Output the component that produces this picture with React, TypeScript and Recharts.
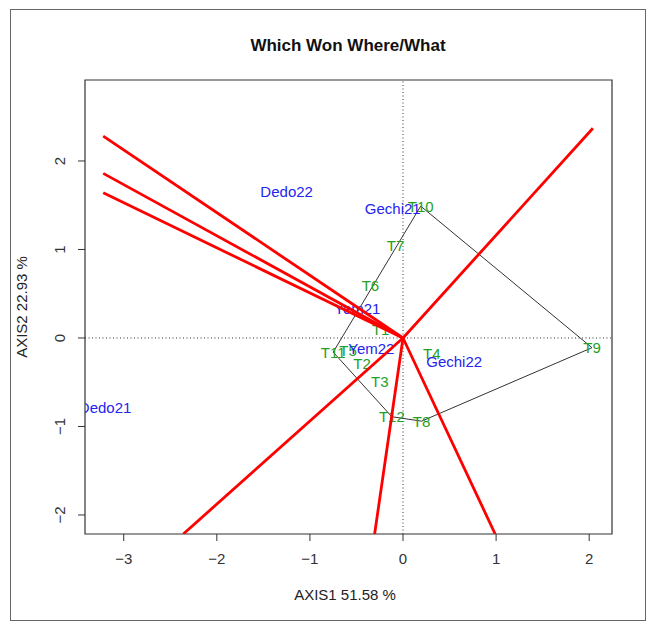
import { ScatterChart, Scatter, XAxis, YAxis, ReferenceLine, ReferenceArea, Label } from "recharts"

// genotypes (green labels)
const genotypeNames = ['T1', 'T2', 'T3', 'T4', 'T5', 'T6', 'T7', 'T8', 'T9', 'T10', 'T11', 'T12'];
const genotypeX = [-0.24, -0.44, -0.25, 0.31, -0.59, -0.35, -0.08, 0.2, 2.03, 0.19, -0.75, -0.12];
const genotypeY = [0.1, -0.29, -0.49, -0.18, -0.14, 0.59, 1.05, -0.94, -0.11, 1.49, -0.16, -0.89];

// environments (blue labels)
const envNames = ['Dedo21', 'Dedo22', 'Gechi21', 'Gechi22', 'Yem21', 'Yem22'];
const envX = [-3.2, -1.25, -0.11, 0.55, -0.49, -0.34];
const envY = [-0.79, 1.65, 1.46, -0.27, 0.33, -0.12];

// polygon vertices (genotypes), closed
const hullOrder = ['T10', 'T11', 'T12', 'T8', 'T9', 'T10'];

// perpendicular rays from the origin
const rayEndX = [-3.22, -3.22, -3.22, -2.36, -0.305, 0.99, 2.04];
const rayEndY = [2.28, 1.86, 1.64, -2.215, -2.215, -2.215, 2.37];

const xTicks = [-3, -2, -1, 0, 1, 2];
const yTicks = [-2, -1, 0, 1, 2];
const xDomain = [-3.416, 2.245];
const yDomain = [-2.215, 2.915];

const FONT = "'Liberation Sans', Arial, sans-serif";
const GREEN = '#23a023';
const BLUE = '#2424ee';

const genotypes = genotypeNames.map((name, i) => ({ name, x: genotypeX[i], y: genotypeY[i] }));
const envs = envNames.map((name, i) => ({ name, x: envX[i], y: envY[i] }));
const hull = hullOrder.map(n => genotypes.find(g => g.name === n)!);
const rays = rayEndX.map((x, i) => [{ x: 0, y: 0 }, { x, y: rayEndY[i] }]);

const fmt = (v: number) => String(v).replace('-', '\u2212');

const XTick = ({ x, y, payload }: any) => (
    <text x={x} y={y} dy="0.72em" textAnchor="middle" fontSize={15} fill="#333" fontFamily={FONT}>
        {fmt(payload.value)}
    </text>
);

const YTick = ({ y, payload }: any) => (
    <text x={65} y={y} transform={`rotate(-90 65 ${y})`} textAnchor="middle" fontSize={15} fill="#333" fontFamily={FONT}>
        {fmt(payload.value)}
    </text>
);

const makeLabel = (color: string) => (props: any) => (
    <text x={props.cx} y={props.cy} textAnchor="middle" dominantBaseline="central" fontSize={15} fill={color} fontFamily={FONT}>
        {props.payload.name}
    </text>
);

const noShape = () => <g />;

export default function App() {
    return (
        <div style={{ position: 'absolute', left: 0, top: 0, width: 648, height: 623, background: '#fff' }}>
            <div style={{ position: 'absolute', left: 10, top: 9, width: 634, height: 610, border: '1px solid #666' }} />
            <div style={{ position: 'absolute', left: 0, top: 0 }}>
                <ScatterChart width={648} height={623} margin={{ top: 80, right: 36, bottom: 39, left: 35 }}>
                    <text x={348} y={51} textAnchor="middle" fontSize={17} fontWeight="bold" fill="#111" fontFamily={FONT}>
                        Which Won Where/What
                    </text>
                    <XAxis type="number" dataKey="x" domain={xDomain} ticks={xTicks} interval={0} allowDataOverflow
                        height={50} axisLine={false} tickLine={{ stroke: '#333' }} tickSize={7} tickMargin={12} tick={<XTick />}>
                        <Label content={() => (
                            <text x={345} y={600} textAnchor="middle" fontSize={15} fill="#222" fontFamily={FONT}>AXIS1 51.58 %</text>
                        )} />
                    </XAxis>
                    <YAxis type="number" dataKey="y" domain={yDomain} ticks={yTicks} interval={0} allowDataOverflow
                        width={50} axisLine={false} tickLine={{ stroke: '#333' }} tickSize={7} tickMargin={12} tick={<YTick />}>
                        <Label content={() => (
                            <text x={27} y={307} transform="rotate(-90 27 307)" textAnchor="middle" fontSize={15} fill="#222" fontFamily={FONT}>AXIS2 22.93 %</text>
                        )} />
                    </YAxis>
                    <ReferenceArea x1={xDomain[0]} x2={xDomain[1]} y1={yDomain[0]} y2={yDomain[1]} fill="none" stroke="#333" strokeWidth={1.2} ifOverflow="visible" />
                    <ReferenceLine x={0} stroke="#333" strokeDasharray="1 2.5" />
                    <ReferenceLine y={0} stroke="#333" strokeDasharray="1 2.5" />
                    <Scatter data={hull} line={{ stroke: '#333', strokeWidth: 1 }} shape={noShape} isAnimationActive={false} />
                    <Scatter data={genotypes} shape={makeLabel(GREEN)} isAnimationActive={false} />
                    <Scatter data={envs} shape={makeLabel(BLUE)} isAnimationActive={false} />
                    {rays.map((r, i) => (
                        <Scatter key={i} data={r} line={{ stroke: '#f00', strokeWidth: 2.8 }} shape={noShape} isAnimationActive={false} />
                    ))}
                </ScatterChart>
            </div>
        </div>
    )
}
